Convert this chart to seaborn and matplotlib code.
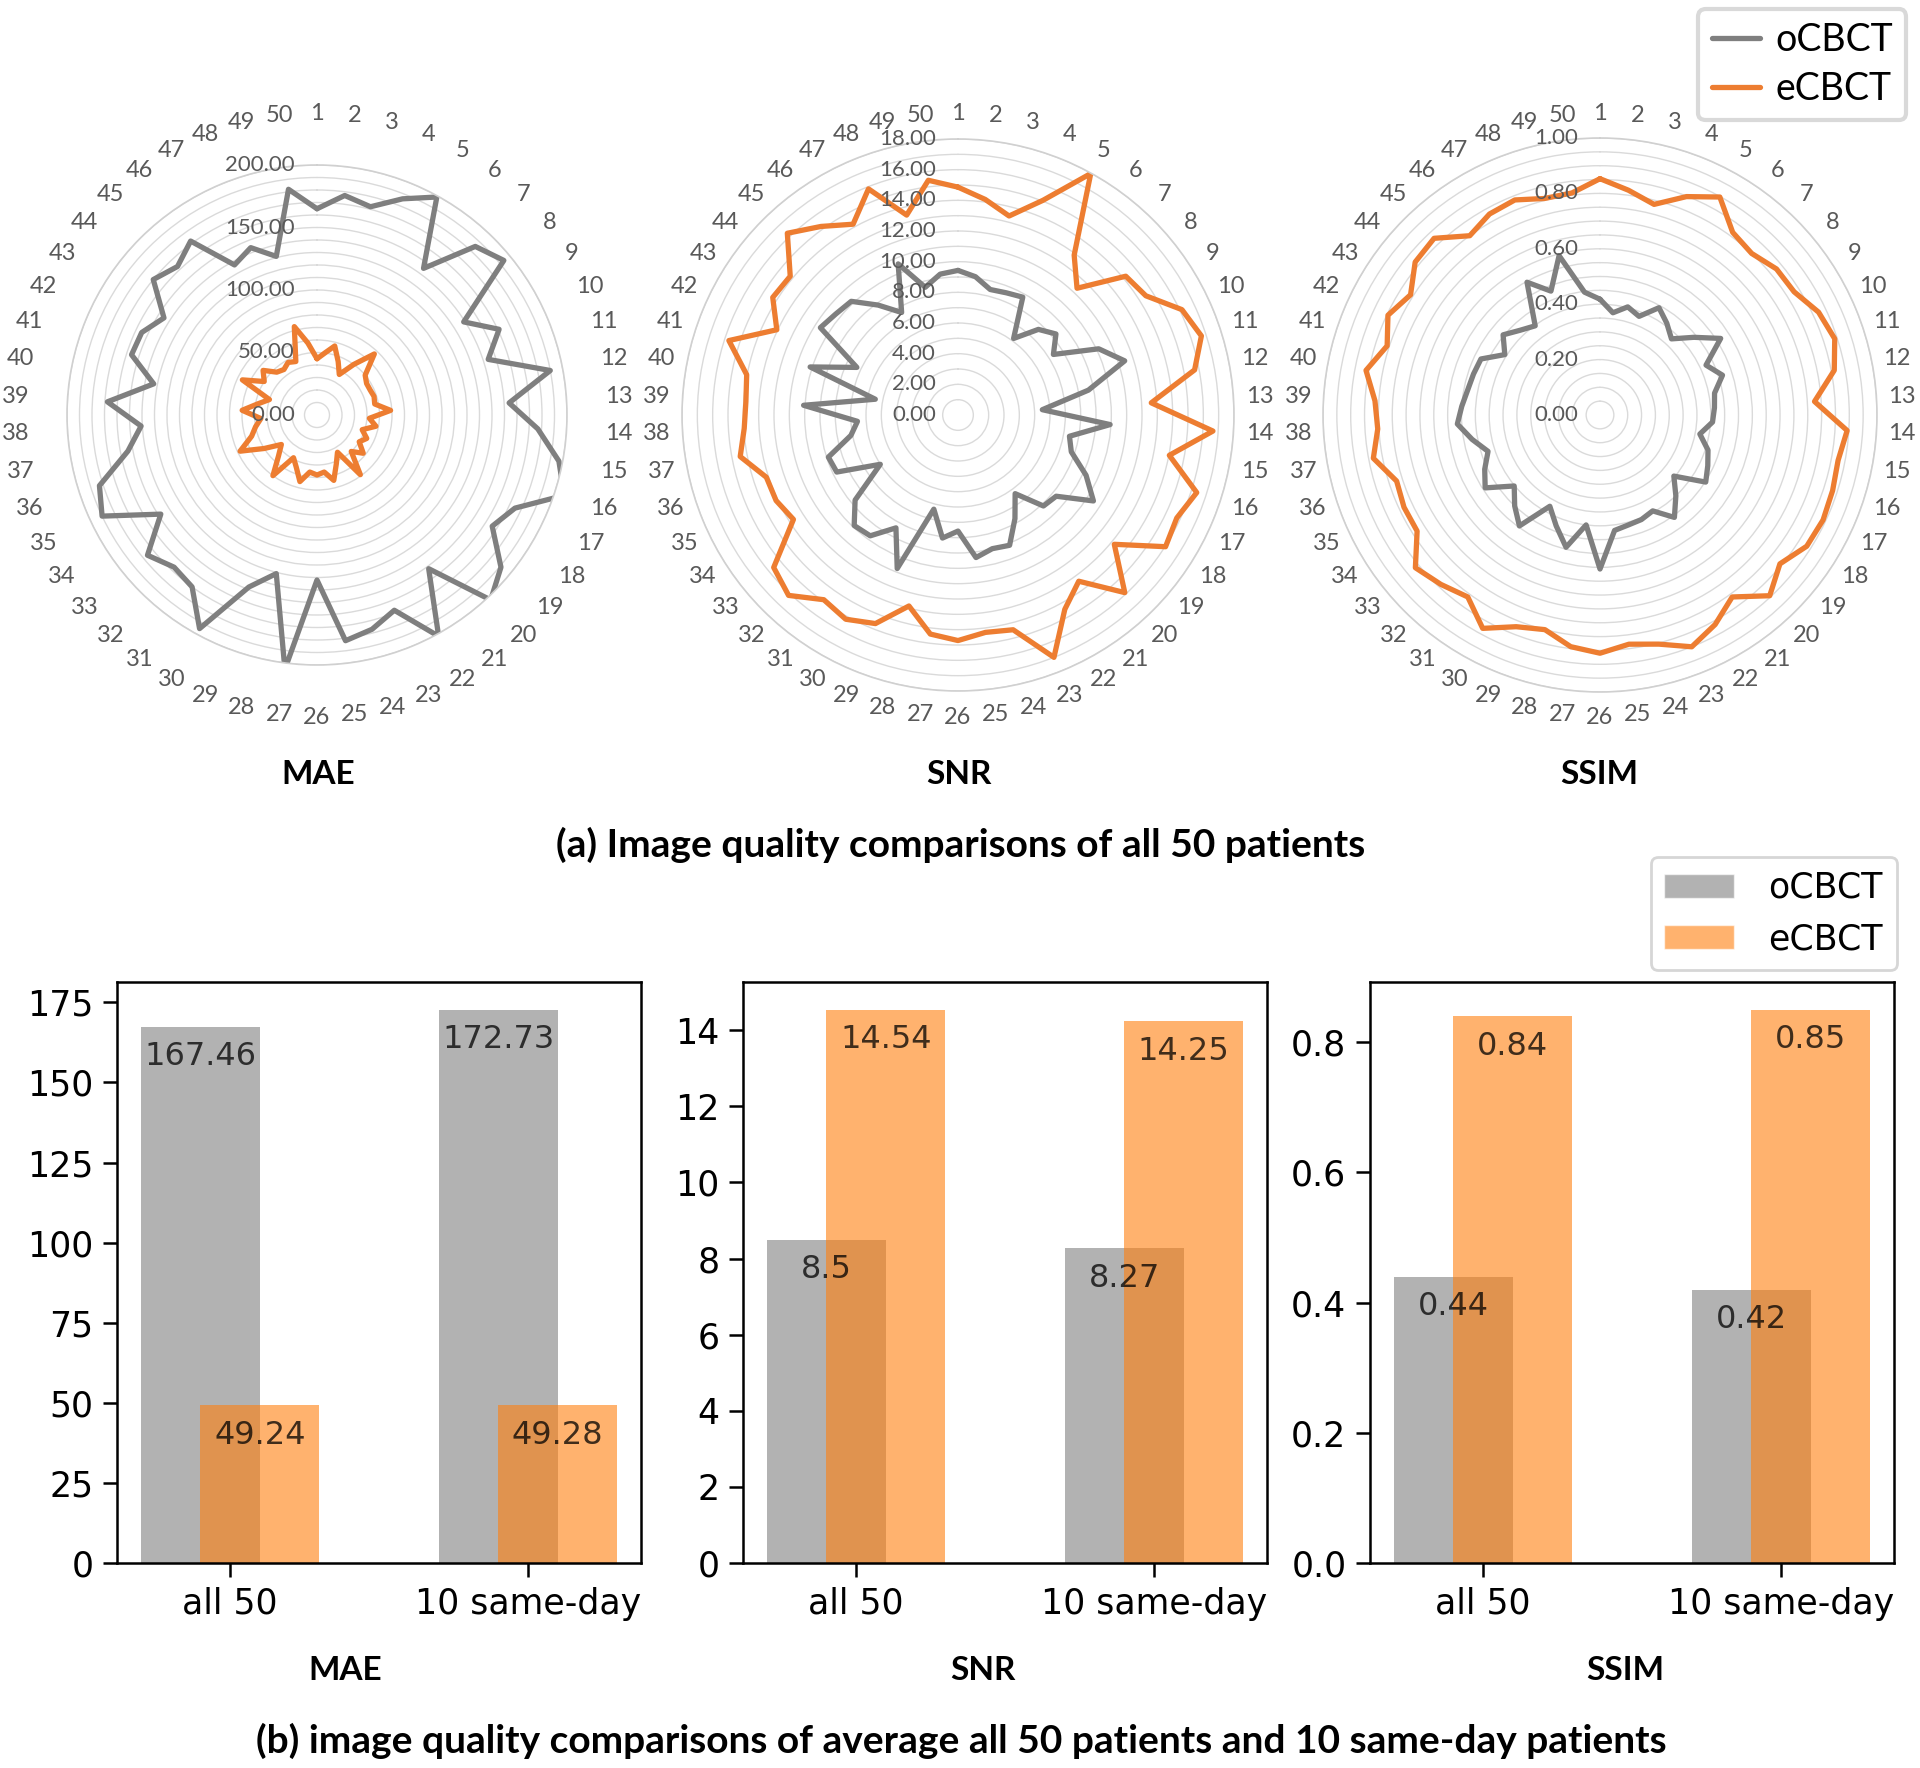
import numpy as np
import pandas as pd
import matplotlib
matplotlib.use("Agg")
import matplotlib.pyplot as plt
import seaborn as sns
from matplotlib import transforms as mtrans
from matplotlib.lines import Line2D
from matplotlib.patches import Patch
from matplotlib.ticker import MultipleLocator

# ---------------- data ----------------
patients = [str(i) for i in range(1, 51)]

mae_o = [165, 177, 172, 186, 199, 145, 185, 194, 139, 161,
         144, 190, 154, 177, 197, 208, 175, 166, 191, 203,
         152, 202, 168, 177, 182, 132, 205, 131, 148, 195,
         170, 167, 176, 148, 190, 183, 154, 141, 168, 133,
         156, 155, 145, 170, 163, 172, 137, 144, 131, 182]
mae_e = [45, 50, 57, 46, 37, 50, 67, 50, 47, 47,
         48, 47, 59, 42, 48, 38, 44, 40, 48, 40,
         59, 34, 42, 54, 46, 48, 46, 55, 45, 39,
         60, 45, 37, 50, 68, 55, 50, 45, 60, 48,
         40, 66, 50, 56, 47, 45, 48, 46, 73, 58]
snr_o = [9.43, 9.09, 8.45, 8.57, 8.77, 6.17, 7.66, 8.29, 7.37, 10.14,
         11.43, 8.66, 5.51, 9.94, 7.40, 7.77, 9.23, 10.46, 8.31, 8.14,
         6.34, 7.71, 9.14, 9.00, 9.37, 7.57, 8.09, 6.34, 10.77, 8.40,
         9.74, 9.89, 8.71, 6.00, 8.74, 8.89, 7.11, 6.57, 10.09, 5.49,
         10.14, 7.29, 10.63, 10.34, 10.17, 8.86, 7.63, 10.60, 8.60, 9.26]
snr_e = [14.86, 14.17, 13.40, 15.06, 17.97, 12.89, 11.34, 14.20, 14.51, 16.14,
         16.69, 15.71, 12.63, 16.66, 14.03, 16.37, 15.77, 16.03, 13.23, 15.89,
         13.40, 14.46, 17.00, 14.46, 14.29, 14.71, 14.40, 12.86, 14.63, 15.20,
         14.89, 16.14, 15.60, 12.71, 13.11, 13.14, 14.46, 13.97, 13.86, 14.03,
         15.71, 13.06, 14.31, 14.20, 16.26, 15.20, 14.20, 15.86, 13.46, 15.43]
ssim_o = [0.418, 0.372, 0.403, 0.383, 0.442, 0.410, 0.377, 0.440, 0.516, 0.423,
          0.465, 0.421, 0.414, 0.407, 0.367, 0.410, 0.430, 0.452, 0.346, 0.400,
          0.457, 0.395, 0.406, 0.410, 0.420, 0.556, 0.400, 0.493, 0.430, 0.376,
          0.495, 0.450, 0.402, 0.491, 0.460, 0.425, 0.470, 0.516, 0.500, 0.486,
          0.480, 0.475, 0.407, 0.454, 0.420, 0.398, 0.547, 0.481, 0.594, 0.447]
ssim_e = [0.853, 0.818, 0.785, 0.848, 0.898, 0.815, 0.800, 0.827, 0.830, 0.872,
          0.891, 0.861, 0.776, 0.894, 0.875, 0.883, 0.890, 0.884, 0.843, 0.895,
          0.812, 0.863, 0.900, 0.854, 0.834, 0.860, 0.843, 0.800, 0.822, 0.879,
          0.812, 0.839, 0.865, 0.782, 0.782, 0.772, 0.833, 0.804, 0.814, 0.860,
          0.808, 0.846, 0.810, 0.866, 0.875, 0.800, 0.828, 0.835, 0.807, 0.808]

groups = ["all 50", "10 same-day"]
methods = ["oCBCT", "eCBCT"]
bar_mae_o = [167.46, 172.73]
bar_mae_e = [49.24, 49.28]
bar_snr_o = [8.5, 8.27]
bar_snr_e = [14.54, 14.25]
bar_ssim_o = [0.44, 0.42]
bar_ssim_e = [0.84, 0.85]

metric_names = ["MAE", "SNR", "SSIM"]
title_a = "(a) Image quality comparisons of all 50 patients"
title_b = "(b) image quality comparisons of average all 50 patients and 10 same-day patients"

# ---------------- style ----------------
sns.set_style("ticks")
plt.rcParams["font.family"] = ["DejaVu Sans"]
plt.rcParams["axes.edgecolor"] = "black"
plt.rcParams["xtick.color"] = "black"
plt.rcParams["ytick.color"] = "black"
plt.rcParams["text.color"] = "black"

W, H = 1920, 1768
fig = plt.figure(figsize=(W / 100, H / 100), dpi=100)


def box(l, t, r, b):
    return [l / W, 1 - b / H, (r - l) / W, (b - t) / H]


GRAY_LINE = "#7F7F7F"
ORANGE_LINE = "#ED7D31"
LBL = "#595959"
WORD_FONT = ["Lato", "DejaVu Sans"]

# ---------------- radar charts ----------------
radar_specs = [
    (317, 250, mae_o, mae_e, 200, 50, 10),
    (958, 276, snr_o, snr_e, 18, 2, 1),
    (1600, 277, ssim_o, ssim_e, 1.0, 0.2, 0.05),
]
cy = 415
theta = np.deg2rad(np.arange(len(patients)) * 360.0 / len(patients))
theta_c = np.append(theta, theta[0] + 2 * np.pi)

for cx, R, o_vals, e_vals, rmax, major, minor in radar_specs:
    ax = fig.add_axes(box(cx - R, cy - R, cx + R, cy + R), projection="polar")
    ax.set_theta_zero_location("N")
    ax.set_theta_direction(-1)
    ax.set_facecolor("none")
    for vals, col in [(o_vals, GRAY_LINE), (e_vals, ORANGE_LINE)]:
        vc = np.append(vals, vals[0])
        sns.lineplot(x=theta_c, y=vc, ax=ax, sort=False, estimator=None,
                     color=col, linewidth=3.8, legend=False)
    ax.set_xlabel("")
    ax.set_ylabel("")
    ax.set_ylim(0, rmax)
    ax.set_yticks(np.arange(minor, rmax + minor / 2, minor))
    ax.set_yticklabels([])
    ax.set_xticks([])
    ax.yaxis.grid(True, color="#DADADA", linewidth=1.0)
    ax.xaxis.grid(False)
    ax.spines["polar"].set_color("#D0D0D0")
    ax.spines["polar"].set_linewidth(1.2)
    # spoke labels
    r_lab = rmax * 302.0 / R
    for th, lab in zip(theta, patients):
        ax.text(th, r_lab, lab, ha="center", va="center", fontsize=17,
                color=LBL, family=WORD_FONT)
    # ring value labels
    off = mtrans.offset_copy(ax.transData, fig=fig, x=-22, y=0, units="dots")
    for v in np.arange(0, rmax + major / 2, major):
        ax.text(0, v, f"{v:.2f}", transform=off, ha="right", va="center",
                fontsize=16, color=LBL, family=WORD_FONT)

for x, name in zip([318, 959, 1599], metric_names):
    fig.text(x / W, 1 - 775 / H, name, ha="center", va="center", fontsize=24,
             fontweight="bold", family=WORD_FONT)
fig.text(961 / W, 1 - 845 / H, title_a, ha="center", va="center", fontsize=28,
         fontweight="bold", family=WORD_FONT)

leg1 = fig.legend(handles=[Line2D([], [], color=GRAY_LINE, lw=3.8),
                           Line2D([], [], color=ORANGE_LINE, lw=3.8)],
                  labels=methods, loc="upper right",
                  bbox_to_anchor=(1906 / W, 1 - 9 / H), borderaxespad=0,
                  prop={"family": WORD_FONT, "size": 27}, handlelength=1.3,
                  handletextpad=0.4, labelspacing=0.35, borderpad=0.35,
                  fancybox=True, framealpha=1, edgecolor="#D9D9D9")
leg1.get_frame().set_linewidth(3)

# ---------------- bar charts ----------------
bar_specs = [
    (117, bar_mae_o, bar_mae_e, 25),
    (743, bar_snr_o, bar_snr_e, 2),
    (1370, bar_ssim_o, bar_ssim_e, 0.2),
]
palette = {"oCBCT": "gray", "eCBCT": "tab:orange"}
for l, o_vals, e_vals, step in bar_specs:
    ax = fig.add_axes(box(l, 982, l + 524, 1563))
    df = pd.DataFrame({
        "group": groups * 2,
        "method": [methods[0]] * len(groups) + [methods[1]] * len(groups),
        "value": list(o_vals) + list(e_vals),
    })
    sns.barplot(data=df, x="group", y="value", hue="method", hue_order=methods,
                palette=palette, saturation=1, alpha=0.6, width=0.4, gap=-1,
                dodge=True, errorbar=None, linewidth=0, legend=False, ax=ax)
    for cont, vals in zip(ax.containers, [o_vals, e_vals]):
        ax.bar_label(cont, labels=[str(v) for v in vals], padding=-33,
                     fontsize=23, color=(0, 0, 0, 0.75))
    ax.set_xlim(-0.38, len(groups) - 1 + 0.38)
    ax.yaxis.set_major_locator(MultipleLocator(step))
    ax.set_xlabel("")
    ax.set_ylabel("")
    ax.tick_params(labelsize=25, length=10, width=1.8, pad=7, direction="out")
    for s in ax.spines.values():
        s.set_visible(True)
        s.set_linewidth(1.8)
        s.set_color("black")

for x, name in zip([345, 983, 1625], metric_names):
    fig.text(x / W, 1 - 1671 / H, name, ha="center", va="center", fontsize=24,
             fontweight="bold", family=WORD_FONT)
fig.text(961 / W, 1 - 1741 / H, title_b, ha="center", va="center", fontsize=28,
         fontweight="bold", family=WORD_FONT)

leg2 = fig.legend(handles=[Patch(facecolor="gray", alpha=0.6),
                           Patch(facecolor="tab:orange", alpha=0.6)],
                  labels=methods, loc="upper right",
                  bbox_to_anchor=(1897 / W, 1 - 857 / H), borderaxespad=0,
                  fontsize=25, handletextpad=1.0,
                  fancybox=True, framealpha=0.8, edgecolor="0.8")
leg2.get_frame().set_linewidth(2)

fig.savefig("out.png", dpi=100)
